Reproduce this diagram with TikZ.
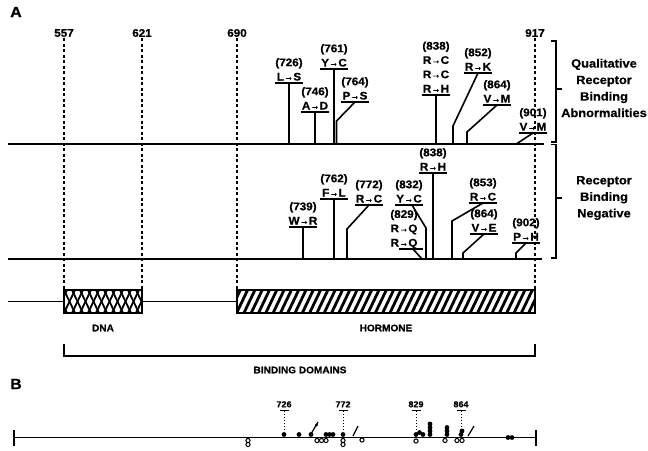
\documentclass[tikz,border=0pt]{standalone}
\usepackage{fontspec}
\setmainfont{Liberation Sans}[FakeStretch=1.06, BoldFeatures={FakeBold=0.8}]
\newfontfamily\sidefont{Liberation Sans}[FakeStretch=1.07, BoldFeatures={FakeBold=0.4}]
\usepackage{graphicx}
\newcommand\mto{\kern0.3pt\raisebox{0.2pt}{\scalebox{0.75}[1]{→}}\kern0.3pt}
\newcommand\mutbar[1]{\draw[barln] ([xshift=-14pt]#1.south) -- ([xshift=14pt]#1.south);}
\begin{document}
\begin{tikzpicture}[x=1pt,y=-1pt,
  baseln/.style={line width=2pt},
  stem/.style={line width=1.6pt},
  barln/.style={line width=1.8pt},
  dsh/.style={line width=1.1pt, dash pattern=on 3pt off 2.5pt},
  mut/.style={font=\fontsize{11}{14.3}\selectfont\bfseries, align=center, anchor=south, inner xsep=0pt, inner ysep=2.3pt, text depth=0pt},
  num/.style={font=\fontsize{11}{12}\selectfont\bfseries, inner sep=1pt},
  side/.style={font=\sidefont\fontsize{12}{16.5}\selectfont\bfseries, align=center},
  small/.style={font=\fontsize{9.5}{11}\selectfont\bfseries},
  bnum/.style={font=\fontsize{8.5}{9}\selectfont\bfseries, inner sep=0.5pt, anchor=south},
  fdot/.style={fill=black, draw=none},
  odot/.style={draw=black, line width=1pt, fill=white}
]
\useasboundingbox (0,0) rectangle (648,450);
\node[font=\fontsize{15}{15}\selectfont\bfseries] (labA) at (16,12) {A};
\node[font=\fontsize{15}{15}\selectfont\bfseries] (labB) at (16,384) {B};

% position numbers
\node[num] (n557) at (64,33) {557};
\node[num] (n621) at (142,33) {621};
\node[num] (n690) at (237,33) {690};
\node[num] (n917) at (535,33) {917};

% domain boxes
\begin{scope}
  \clip (64,290) rectangle (142,313);
  \foreach \x in {40,48,...,150} {
    \draw[line width=1.8pt] (\x,313) -- (\x+11,290);
    \draw[line width=1.8pt] (\x,290) -- (\x+11,313);
  }
\end{scope}
\begin{scope}
  \clip (237,290) rectangle (535,313);
  \foreach \x in {222,229.3,...,540} {
    \draw[line width=2.8pt] (\x,313) -- (\x+11,290);
  }
\end{scope}
\node[draw, line width=1.7pt, minimum width=78pt, minimum height=23pt, inner sep=0pt] (dna) at (103,301.5) {};
\node[draw, line width=1.7pt, minimum width=298pt, minimum height=23pt, inner sep=0pt] (horm) at (386,301.5) {};
\coordinate (dl) at (8,301.5);
\draw[line width=1.4pt] (dl) -- (dna.west);
\draw[line width=1.4pt] (dna.east) -- (horm.west);
\node[small] (tdna) at (103,328) {DNA};
\node[small] (thorm) at (386,328) {HORMONE};

% dashed verticals
\draw[dsh] (n557.south) -- (n557.south |- dna.north);
\draw[dsh] (n621.south) -- (n621.south |- dna.north);
\draw[dsh] (n690.south) -- (n690.south |- horm.north);
\draw[dsh] (n917.south) -- (n917.south |- horm.north);

% binding domains bracket
\coordinate (bd1) at (64,344);
\coordinate (bd2) at (535,344);
\draw[line width=1.4pt] (bd1) -- (bd1 |- 0,356) -- (bd2 |- 0,356) -- (bd2);
\node[small] (tbd) at (300,370) {BINDING DOMAINS};

% baselines
\coordinate (b1l) at (8,143.5); \coordinate (b1r) at (544,143.5);
\coordinate (b2l) at (8,259); \coordinate (b2r) at (542,259);
\draw[baseln] (b1l) -- (b1r);
\draw[baseln] (b2l) -- (b2r);

% right brackets
\draw[line width=1.5pt] (551,41) -- (556,41) -- (556,142) -- (551,142);
\draw[line width=1.5pt] (556,89) -- (562,89);
\draw[line width=1.5pt] (551,144.5) -- (556,144.5) -- (556,258) -- (551,258);
\draw[line width=1.5pt] (556,198) -- (562,198);
\node[side] (q1) at (604,88) {Qualitative\\Receptor\\Binding\\Abnormalities};
\node[side] (q2) at (604,198) {Receptor\\Binding\\Negative};

% ---- panel 1 mutations ----
\node[mut] (m726) at (289,83) {(726)\\L\mto S}; \mutbar{m726}
\draw[stem] (m726.south) -- (m726.south |- b1l);
\node[mut] (m746) at (315,112) {(746)\\A\mto D}; \mutbar{m746}
\draw[stem] (m746.south) -- (m746.south |- b1l);
\node[mut] (m761) at (334,69) {(761)\\Y\mto C}; \mutbar{m761}
\draw[stem] (m761.south) -- (m761.south |- b1l);
\node[mut] (m764) at (355,102) {(764)\\P\mto S}; \mutbar{m764}
\coordinate (k764) at (336.5,121);
\draw[stem] (m764.south) -- (k764) -- (k764 |- b1l);
\node[mut] (m838a) at (436,95) {(838)\\R\mto C\\R\mto C\\R\mto H}; \mutbar{m838a}
\draw[stem] (m838a.south) -- (m838a.south |- b1l);
\node[mut] (m852) at (478,73) {(852)\\R\mto K}; \mutbar{m852}
\coordinate (k852) at (453,126);
\draw[stem] (m852.south) -- (k852) -- (k852 |- b1l);
\node[mut] (m864a) at (497,105) {(864)\\V\mto M}; \mutbar{m864a}
\coordinate (k864a) at (467,132);
\draw[stem] (m864a.south) -- (k864a) -- (k864a |- b1l);
\node[mut] (m901) at (533,133) {(901)\\V\mto M}; \mutbar{m901}
\coordinate (k901) at (517,143.5);
\draw[stem] (m901.south) -- (k901);

% ---- panel 2 mutations ----
\node[mut] (m739) at (303,227) {(739)\\W\mto R}; \mutbar{m739}
\draw[stem] (m739.south) -- (m739.south |- b2l);
\node[mut] (m762) at (334,199) {(762)\\F\mto L}; \mutbar{m762}
\draw[stem] (m762.south) -- (m762.south |- b2l);
\node[mut] (m772) at (369,205) {(772)\\R\mto C}; \mutbar{m772}
\coordinate (k772) at (347,229);
\draw[stem] (m772.south) -- (k772) -- (k772 |- b2l);
\node[mut] (m832) at (409,205) {(832)\\Y\mto C}; \mutbar{m832}
\coordinate (k832) at (426,228);
\draw[stem] ([xshift=3pt]m832.south) -- (k832) -- (k832 |- b2l);
\node[mut] (m829) at (404,249) {(829)\\R\mto Q\\R\mto Q};
\draw[barln] ([xshift=-5pt]m829.south) -- ([xshift=19pt]m829.south);
\coordinate (k829) at (422,259);
\draw[stem] ([xshift=9pt]m829.south) -- (k829);
\node[mut] (m838b) at (433,173) {(838)\\R\mto H}; \mutbar{m838b}
\draw[stem] (m838b.south) -- (m838b.south |- b2l);
\node[mut] (m853) at (483,203) {(853)\\R\mto C}; \mutbar{m853}
\coordinate (k853) at (452,221);
\draw[stem] (m853.south) -- (k853) -- (k853 |- b2l);
\node[mut] (m864b) at (484,234) {(864)\\V\mto E}; \mutbar{m864b}
\coordinate (k864b) at (463,253);
\draw[stem] (m864b.south) -- (k864b) -- (k864b |- b2l);
\node[mut] (m902) at (526,243) {(902)\\P\mto H}; \mutbar{m902}
\coordinate (k902) at (516,253);
\draw[stem] (m902.south) -- (k902) -- (k902 |- b2l);

% ---- panel B ----
\coordinate (bl) at (14,437.5); \coordinate (br) at (536,437.5);
\draw[line width=1.6pt] (bl) -- (br);
\draw[line width=1.6pt] ([yshift=-8pt]bl) -- ([yshift=8pt]bl);
\draw[line width=1.6pt] ([yshift=-8pt]br) -- ([yshift=8pt]br);
\node[bnum] (t726) at (284,408) {726};
\node[bnum] (t772) at (343,408) {772};
\node[bnum] (t829) at (416,408) {829};
\node[bnum] (t864) at (461,408) {864};
\foreach \nm in {t726,t772,t829,t864} {
  \draw[line width=1pt] ([xshift=-4.5pt,yshift=-2pt]\nm.south) -- ([xshift=4.5pt,yshift=-2pt]\nm.south);
  \draw[line width=1pt, dotted] ([yshift=-3pt]\nm.south) -- ([yshift=-24pt]\nm.south);
}
\foreach \p in {(284,434.5),(299,434.5),(311,434.5),(326,434.5),(329.5,434.5),(333,434.5),(343,434.5),
  (416,434.5),(419.5,432.5),(423,434.5),(430,434.5),(430,431),(430,427.5),(430,424),
  (447,434.5),(447,431),(447,427.5),(461,434.5),(462,431),(508,437.5),(512,437.5)}
  \fill[fdot] \p circle (2.4pt);
\foreach \p in {(248,440.5),(248,444.5),(317,440.5),(321.5,440.5),(326,440.5),(343,440.5),(343,444.5),
  (362,440),(416,441),(445,440.5),(457,440.5),(462,440.5)}
  \draw[odot] \p circle (2.1pt);
\draw[line width=1.2pt] (311,434) -- (318,422);
\fill (316.5,425) circle (1.7pt);
\draw[line width=1.2pt] (353,436) -- (358,426);
\draw[line width=1.2pt] (468,436) -- (474,426);
\end{tikzpicture}
\end{document}
